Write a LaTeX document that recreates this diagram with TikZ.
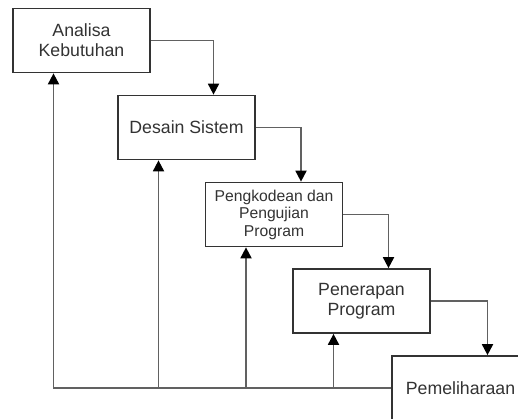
\documentclass[tikz,border=0pt]{standalone}
\usepackage{fontspec}
\setmainfont{Liberation Sans}
\usetikzlibrary{arrows.meta,positioning}
\tikzset{phase/.style={draw=black!80,fill=white,line width=1.7pt,
                       align=center,text=black!80,
                       minimum width=137pt,minimum height=64pt,
                       font=\fontsize{17.7}{20}\selectfont}}
\tikzset{flow/.style={draw=black!62,line width=1.8pt}}

\begin{document}
\begin{tikzpicture}[x=1pt,y=-1pt,
      >={Triangle[width=11pt,length=11pt,black]},
      % smaller text for the third phase
      small/.style={font=\fontsize{15.7}{17.5}\selectfont}
    ]
    \path[use as bounding box,clip] (0,0) rectangle (518,418);

    % the five phases, stepping down to the right
    \node[phase] (b1) at (81.5,40.5) {Analisa\\Kebutuhan};
    \node[phase] (b2) at (186.5,127.5) {Desain Sistem};
    \node[phase,small] (b3) at (274,214.5) {Pengkodean dan\\Pengujian\\Program};
    \node[phase] (b4) at (361.5,301) {Penerapan\\Program};
    \node[phase] (b5) at (460.5,388) {Pemeliharaan};

    % forward flow
    \foreach \a/\b in {b1/b2,b2/b3,b3/b4,b4/b5}
      \draw[flow,->] (\a.east) -| ([xshift=27pt]\b.north);

    % feedback from maintenance
    \draw[flow,->] (b5.west) -| ([xshift=-28pt]b1.south);
    \foreach \b in {b2,b3,b4}
      \draw[flow,->] ([xshift=-28pt]\b.south |- b5.west) -- ([xshift=-28pt]\b.south);
\end{tikzpicture}
\end{document}
